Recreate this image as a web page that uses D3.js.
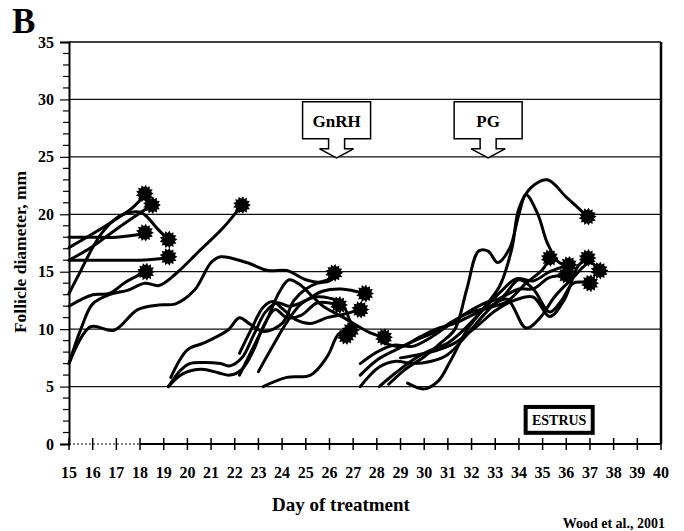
<!DOCTYPE html>
<html>
<meta charset="utf-8"/>
<head>
<title>Follicle diameter</title>
<script src="https://d3js.org/d3.v7.min.js"></script>
<style>
  body { margin: 0; background: #fff; }
  text { font-family: "Liberation Serif", "Times New Roman", serif; font-weight: bold; fill: #000; }
</style>
</head>
<body>
<script>
// days on x, follicle diameter (mm) on y
var dayTicks = d3.range(15, 41);
var mmTicks = [0, 5, 10, 15, 20, 25, 30, 35];
var gridMm = [5, 10, 15, 20, 25, 30];

// first wave (days 15-26)
var wave1 = [
  [[15,18],[16,18],[17,18],[18.2,18.3]],
  [[15,16],[16,16],[17,16],[18,16],[19.2,16.2]],
  [[15,17.1],[16,18.3],[17,19.6],[17.7,20.6],[18.2,21.7]],
  [[15,16],[16,17.2],[17,18.7],[18.5,20.8]],
  [[15,13.1],[15.5,15.1],[16,17.1],[16.4,18.4],[17.1,19.8],[17.7,20.2],[18.1,20.1],[18.8,18.6],[19.2,17.8]],
  [[15,12],[16,13],[16.7,13.1],[17.4,14.1],[18.25,15]],
  [[15,7],[15.5,10],[16,12.2],[16.7,13],[17.5,13.4],[18.2,14],[18.8,13.8],[19.5,14.8],[20.5,16.8],[21.5,18.8],[22.3,20.8]],
  [[15,7],[15.9,10.2],[16.9,9.9],[17.9,11.7],[18.8,12.1],[19.5,12.2],[20.3,13.4],[21,15.8],[21.4,16.3],[22.5,15.8],[23.4,15.1],[24.2,15.1],[25,14.3],[25.6,14.1],[26.2,14.6]]
];

// second wave (days 19-28)
var wave2 = [
  [[19.2,5],[19.7,6.4],[20.1,7],[20.7,7.1],[21.4,7],[21.8,6.8],[22.3,7.5],[22.8,9.5],[23.3,11.5],[23.8,12.3],[24.3,12],[25,12.5],[25.7,13.3],[26.5,13.5],[27.5,13.1]],
  [[19.2,5],[19.8,6.1],[20.6,6.5],[21.3,6.2],[21.8,6],[22.3,6.5],[22.8,8.2],[23.2,10.2],[23.7,11.7],[24.2,11],[24.8,11.2],[25.5,12.3],[26.4,12.1]],
  [[19.3,5.8],[20,8.2],[20.7,8.8],[21.7,9.9],[22.2,11],[22.6,10.5],[23.2,9.8],[24,10.5],[24.5,12.5],[25,13.5],[25.5,14],[26,14.2],[26.3,14.8]],
  [[22.2,7.9],[22.7,10],[23.2,11.9],[23.6,12.4],[24,11.8],[24.6,10.8],[25.2,10.5],[25.9,11],[26.6,11.3],[27.3,11.7]],
  [[22.2,6],[22.8,8.5],[23.4,11],[23.9,13.3],[24.3,14.3],[24.8,13.8],[25.3,12.8],[25.8,11.9],[26.6,11],[27.7,9.7],[28.3,9.3]],
  [[23.2,5],[24.2,5.8],[25.2,6],[25.9,7.6],[26.4,9.6],[26.9,10]],
  [[23,6.3],[23.6,8.5],[24.2,10.6],[24.8,12.2],[25.4,12.8],[26,12.7],[26.5,12.3],[26.9,10.5],[27,9.8]]
];

// third wave (days 27-37)
var wave3 = [
  [[27.3,5],[28.1,6.7],[28.8,7.2],[29.5,7],[30.3,7.2],[31,7.8],[31.8,9.5],[32.5,11.2],[33.2,12.6],[34,13.5],[34.6,13.5],[35.3,14.5],[36,14.7]],
  [[27.3,6],[28,7.3],[28.8,8.2],[29.6,9],[30.5,9.8],[31.3,10.8],[32,11.5],[32.8,11.9],[33.5,12.4],[34.3,14],[35,15.2],[35.3,16.2]],
  [[27.3,7],[28,8],[28.7,8.6],[29.5,8.5],[30.3,9.3],[31,10.3],[31.7,11.3],[32.6,12.3],[33.3,12.8],[34,14.3],[34.6,13.5],[35.3,11.5],[35.8,12.5],[36.3,14],[37,14]],
  [[28.1,5],[28.8,6.2],[29.5,7.3],[30.2,8.1],[31,8.8],[31.6,9.8],[32.4,11.5],[33.2,13.2],[33.9,14.4],[34.6,14.2],[35.3,15],[36.1,15.6]],
  [[28.5,5.2],[29.2,6.5],[30,7.6],[30.7,8.8],[31.3,10],[31.8,13.5],[32.3,16.8],[32.7,16.8],[33.1,15.8],[33.6,17],[34,20],[34.3,21.7],[34.8,20],[35.2,17.5],[35.7,15.8],[36.1,15.6]],
  [[29.3,5.3],[30,4.8],[30.6,5.5],[31.1,7.2],[31.8,9.9],[32.5,11.8],[33.2,13.8],[33.7,17],[34,20.5],[34.5,22.3],[35.2,23],[36,21.5],[36.9,19.8]],
  [[28.3,8.8],[29,8.5],[29.8,9.3],[30.5,10],[31.3,10.5],[32,11.2],[32.8,12],[33.5,12.6],[34.3,10.1],[34.9,11],[35.5,12.8],[36.3,14.5],[37,15.8],[37.4,15.1]],
  [[29,7.5],[29.8,7.8],[30.6,8.2],[31.3,8.8],[32.2,10.2],[33,11.6],[33.8,12.5],[34.6,12.8],[35.3,11.1],[35.9,12.5],[36.5,15.5],[36.9,16.2]]
];

// ovulation markers
var ovulations = [
  [18.2,21.8],[18.5,20.8],[18.2,18.4],[19.2,17.8],[19.2,16.3],[18.25,15],[22.3,20.8],
  [26.2,14.9],[26.4,12.1],[27.5,13.1],[27.3,11.7],[26.9,9.9],[26.7,9.4],[28.3,9.3],
  [35.3,16.2],[36.1,15.6],[36.9,16.2],[36,14.7],[37,14],[37.4,15.1],[36.9,19.8]
];

var treatments = [{label: "GnRH", day: 26.3}, {label: "PG", day: 32.7}];

var W = 684, H = 531;
var x = d3.scaleLinear().domain([15, 40]).range([69, 661]);
var y = d3.scaleLinear().domain([0, 35]).range([444, 42]);

var svg = d3.select("body").append("svg")
  .attr("width", W).attr("height", H);
svg.append("rect").attr("width", W).attr("height", H).attr("fill", "#fff");

// grid lines
svg.selectAll("line.grid").data(gridMm).enter().append("line")
  .attr("class", "grid")
  .attr("x1", x(15)).attr("x2", x(40))
  .attr("y1", function(d){ return y(d); }).attr("y2", function(d){ return y(d); })
  .attr("stroke", "#111").attr("stroke-width", 1.2);

// frame: top and right
svg.append("line").attr("x1", x(15)).attr("x2", x(40)).attr("y1", y(35)).attr("y2", y(35))
  .attr("stroke", "#000").attr("stroke-width", 1.5);
svg.append("line").attr("x1", x(40)).attr("x2", x(40)).attr("y1", y(35)).attr("y2", y(0))
  .attr("stroke", "#000").attr("stroke-width", 2.5);

// y axis
var yAxis = d3.axisLeft(y).tickValues(mmTicks).tickSize(9).tickPadding(6);
var gy = svg.append("g").attr("transform", "translate(" + x(15) + ",0)").call(yAxis);
gy.select(".domain").attr("stroke-width", 2);
gy.selectAll(".tick line").attr("stroke-width", 1.2);
gy.selectAll(".tick text").style("font-size", "16px").style("font-family", "Liberation Serif").style("font-weight", "bold");
var minor = d3.range(0, 36).filter(function(d){ return d % 5 != 0; });
gy.selectAll("line.minor").data(minor).enter().append("line")
  .attr("class", "minor")
  .attr("x1", -6).attr("x2", 0)
  .attr("y1", function(d){ return y(d); }).attr("y2", function(d){ return y(d); })
  .attr("stroke", "#000").attr("stroke-width", 1.2);

// x axis
var gx = svg.append("g").attr("transform", "translate(0," + y(0) + ")");
gx.append("line").attr("x1", x(15)).attr("x2", x(18)).attr("stroke", "#000")
  .attr("stroke-width", 1).attr("stroke-dasharray", "2,2");
gx.append("line").attr("x1", x(18)).attr("x2", x(40)).attr("stroke", "#000").attr("stroke-width", 2);
gx.selectAll("line.tk").data(dayTicks).enter().append("line")
  .attr("class", "tk")
  .attr("x1", function(d){ return x(d); }).attr("x2", function(d){ return x(d); })
  .attr("y1", -6).attr("y2", 6)
  .attr("stroke", "#000").attr("stroke-width", 1.5);
gx.selectAll("text.tk").data(dayTicks).enter().append("text")
  .attr("class", "tk")
  .attr("x", function(d){ return x(d); }).attr("y", 34)
  .attr("text-anchor", "middle").style("font-size", "16px")
  .text(function(d){ return d; });

// axis titles
svg.append("text").attr("x", 12).attr("y", 33).style("font-size", "35px").text("B");
svg.append("text").attr("transform", "translate(26,252) rotate(-90)")
  .attr("text-anchor", "middle").style("font-size", "17.5px").text("Follicle diameter, mm");
svg.append("text").attr("x", 341).attr("y", 511).attr("text-anchor", "middle")
  .style("font-size", "19px").text("Day of treatment");
svg.append("text").attr("x", 665).attr("y", 528).attr("text-anchor", "end")
  .style("font-size", "14px").text("Wood et al., 2001");

// follicle curves
var line = d3.line()
  .x(function(d){ return x(d[0]); })
  .y(function(d){ return y(d[1]); })
  .curve(d3.curveCatmullRom.alpha(0.5));

var all = wave1.concat(wave2, wave3);
svg.append("g").selectAll("path").data(all).enter().append("path")
  .attr("d", line)
  .attr("fill", "none").attr("stroke", "#000").attr("stroke-width", 3)
  .attr("stroke-linejoin", "round").attr("stroke-linecap", "round");

// star markers
function starPath(r1, r2, n) {
  var pts = [];
  for (var i = 0; i < n * 2; i++) {
    var r = i % 2 == 0 ? r1 : r2;
    var a = Math.PI * i / n;
    pts.push([r * Math.cos(a), r * Math.sin(a)]);
  }
  return "M" + pts.join("L") + "Z";
}
svg.append("g").selectAll("path").data(ovulations).enter().append("path")
  .attr("transform", function(d){ return "translate(" + x(d[0]) + "," + y(d[1]) + ")"; })
  .attr("d", starPath(9, 6.5, 13))
  .attr("fill", "#000");

// treatment callouts
var callouts = svg.append("g").selectAll("g").data(treatments).enter().append("g")
  .attr("transform", function(d){ return "translate(" + x(d.day) + "," + y(25) + ")"; });
callouts.append("path")
  .attr("d", "M-34,-55 L34,-55 L34,-18 L8,-18 L8,-8 L17,-8 L0,1 L-17,-8 L-8,-8 L-8,-18 L-34,-18 Z")
  .attr("fill", "#fff").attr("stroke", "#000").attr("stroke-width", 1.5);
callouts.append("text").attr("y", -30).attr("text-anchor", "middle")
  .style("font-size", "17px").text(function(d){ return d.label; });

// estrus box
var ex0 = x(34.2), ex1 = x(37.2), ey0 = y(3.4), ey1 = y(0.8);
svg.append("rect").attr("x", ex0 + 2).attr("y", ey0 + 2)
  .attr("width", ex1 - ex0 - 4).attr("height", ey1 - ey0 - 4)
  .attr("fill", "#fff").attr("stroke", "#000").attr("stroke-width", 4);
svg.append("text").attr("x", (ex0 + ex1) / 2).attr("y", (ey0 + ey1) / 2 + 5)
  .attr("text-anchor", "middle").style("font-size", "14px").text("ESTRUS");
</script>
</body>
</html>
